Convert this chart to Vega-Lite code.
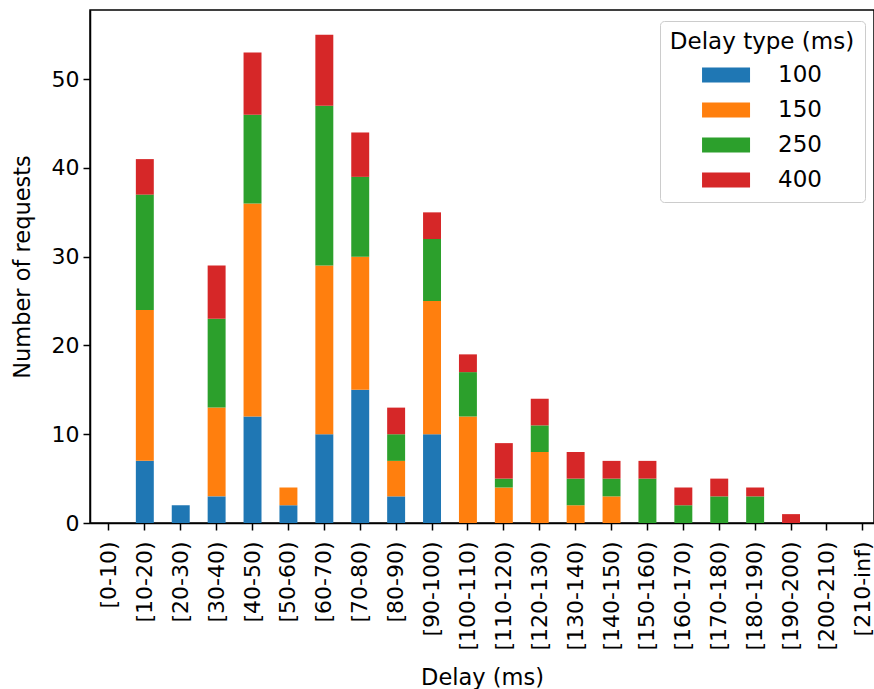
{
  "$schema": "https://vega.github.io/schema/vega-lite/v6.json",
  "width": 784,
  "height": 513,
  "autosize": {"type": "none"},
  "padding": {"left": 90, "top": 10, "right": 0, "bottom": 166},
  "background": "white",
  "config": {
    "font": "DejaVu Sans",
    "view": {"stroke": "black", "strokeWidth": 1.5},
    "axis": {"grid": false, "domainColor": "black", "tickColor": "black", "labelColor": "black", "titleColor": "black", "labelFont": "DejaVu Sans", "titleFont": "DejaVu Sans", "labelFontSize": 22, "titleFontSize": 22.5, "titleFontWeight": "normal", "tickSize": 7, "tickWidth": 1.5, "domainWidth": 1.5}
  },
  "data": {"values": [
    {"bin": "[10-20)", "type": "100", "n": 7},
    {"bin": "[10-20)", "type": "150", "n": 17},
    {"bin": "[10-20)", "type": "250", "n": 13},
    {"bin": "[10-20)", "type": "400", "n": 4},
    {"bin": "[20-30)", "type": "100", "n": 2},
    {"bin": "[30-40)", "type": "100", "n": 3},
    {"bin": "[30-40)", "type": "150", "n": 10},
    {"bin": "[30-40)", "type": "250", "n": 10},
    {"bin": "[30-40)", "type": "400", "n": 6},
    {"bin": "[40-50)", "type": "100", "n": 12},
    {"bin": "[40-50)", "type": "150", "n": 24},
    {"bin": "[40-50)", "type": "250", "n": 10},
    {"bin": "[40-50)", "type": "400", "n": 7},
    {"bin": "[50-60)", "type": "100", "n": 2},
    {"bin": "[50-60)", "type": "150", "n": 2},
    {"bin": "[60-70)", "type": "100", "n": 10},
    {"bin": "[60-70)", "type": "150", "n": 19},
    {"bin": "[60-70)", "type": "250", "n": 18},
    {"bin": "[60-70)", "type": "400", "n": 8},
    {"bin": "[70-80)", "type": "100", "n": 15},
    {"bin": "[70-80)", "type": "150", "n": 15},
    {"bin": "[70-80)", "type": "250", "n": 9},
    {"bin": "[70-80)", "type": "400", "n": 5},
    {"bin": "[80-90)", "type": "100", "n": 3},
    {"bin": "[80-90)", "type": "150", "n": 4},
    {"bin": "[80-90)", "type": "250", "n": 3},
    {"bin": "[80-90)", "type": "400", "n": 3},
    {"bin": "[90-100)", "type": "100", "n": 10},
    {"bin": "[90-100)", "type": "150", "n": 15},
    {"bin": "[90-100)", "type": "250", "n": 7},
    {"bin": "[90-100)", "type": "400", "n": 3},
    {"bin": "[100-110)", "type": "150", "n": 12},
    {"bin": "[100-110)", "type": "250", "n": 5},
    {"bin": "[100-110)", "type": "400", "n": 2},
    {"bin": "[110-120)", "type": "150", "n": 4},
    {"bin": "[110-120)", "type": "250", "n": 1},
    {"bin": "[110-120)", "type": "400", "n": 4},
    {"bin": "[120-130)", "type": "150", "n": 8},
    {"bin": "[120-130)", "type": "250", "n": 3},
    {"bin": "[120-130)", "type": "400", "n": 3},
    {"bin": "[130-140)", "type": "150", "n": 2},
    {"bin": "[130-140)", "type": "250", "n": 3},
    {"bin": "[130-140)", "type": "400", "n": 3},
    {"bin": "[140-150)", "type": "150", "n": 3},
    {"bin": "[140-150)", "type": "250", "n": 2},
    {"bin": "[140-150)", "type": "400", "n": 2},
    {"bin": "[150-160)", "type": "250", "n": 5},
    {"bin": "[150-160)", "type": "400", "n": 2},
    {"bin": "[160-170)", "type": "250", "n": 2},
    {"bin": "[160-170)", "type": "400", "n": 2},
    {"bin": "[170-180)", "type": "250", "n": 3},
    {"bin": "[170-180)", "type": "400", "n": 2},
    {"bin": "[180-190)", "type": "250", "n": 3},
    {"bin": "[180-190)", "type": "400", "n": 1},
    {"bin": "[190-200)", "type": "400", "n": 1}
  ]},
  "mark": {"type": "bar"},
  "encoding": {
    "x": {
      "field": "bin", "type": "nominal", "title": "Delay (ms)",
      "scale": {"domain": ["[0-10)","[10-20)","[20-30)","[30-40)","[40-50)","[50-60)","[60-70)","[70-80)","[80-90)","[90-100)","[100-110)","[110-120)","[120-130)","[130-140)","[140-150)","[150-160)","[160-170)","[170-180)","[180-190)","[190-200)","[200-210)","[210-inf)"], "paddingInner": 0.5, "paddingOuter": 0.169, "align": 0.82},
      "axis": {"labelAngle": -90, "labelPadding": 11, "titlePadding": 16}
    },
    "y": {
      "field": "n", "type": "quantitative", "aggregate": "sum", "stack": "zero", "title": "Number of requests",
      "scale": {"domain": [0, 57.8], "nice": false},
      "axis": {"values": [0, 10, 20, 30, 40, 50], "titlePadding": 17, "labelPadding": 4}
    },
    "color": {
      "field": "type", "type": "nominal",
      "scale": {"domain": ["100", "150", "250", "400"], "range": ["#1f77b4", "#ff7f0e", "#2ca02c", "#d62728"]},
      "legend": {
        "title": "Delay type (ms)", "orient": "none", "legendX": 570, "legendY": 11,
        "titleFontSize": 23, "titleFontWeight": "normal", "titleColor": "black", "titleAnchor": "middle", "titlePadding": 5, "titleLimit": 400,
        "labelFontSize": 23, "labelColor": "black", "labelOffset": 43,
        "symbolType": "M-1.06,-0.47H1.94V0.47H-1.06Z", "symbolSize": 1024, "symbolStrokeWidth": 0, "symbolOpacity": 1,
        "rowPadding": 7, "padding": 10, "strokeColor": "#cccccc", "fillColor": "white", "cornerRadius": 4,
        "offset": 0
      }
    },
    "order": {"field": "type", "type": "nominal", "sort": "ascending"}
  }
}
